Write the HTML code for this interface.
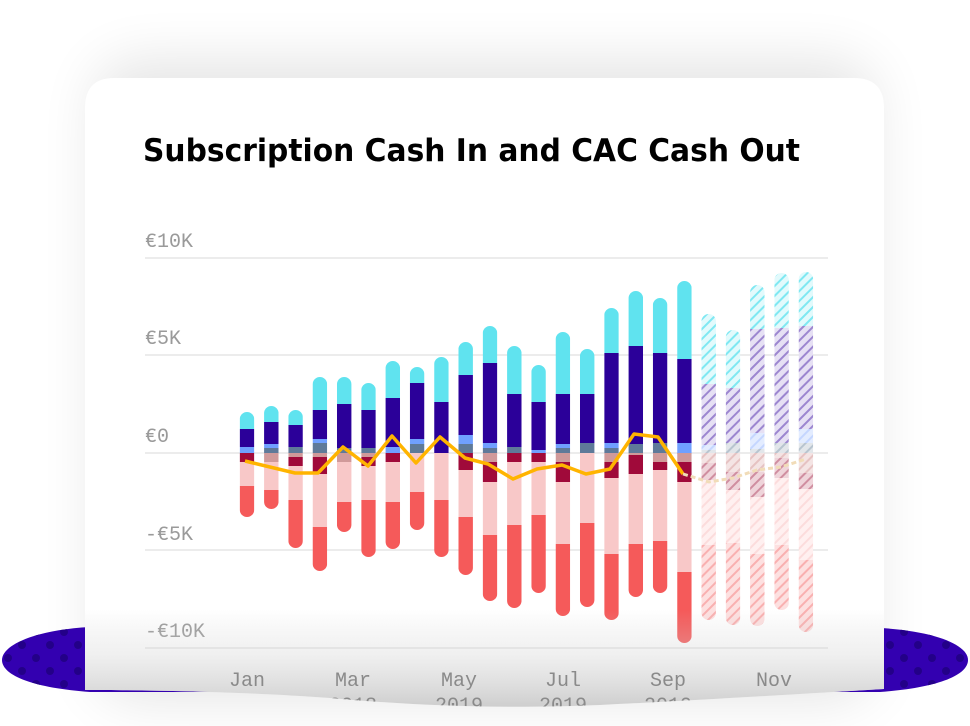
<!DOCTYPE html>
<html><head><meta charset="utf-8"><style>
html,body{margin:0;padding:0;background:#fff;width:970px;height:726px;overflow:hidden}
svg{display:block}
</style></head><body>
<svg id="s" width="970" height="726" viewBox="0 0 970 726" xmlns="http://www.w3.org/2000/svg">
<defs>
<filter id="sh" x="-30%" y="-30%" width="160%" height="160%"><feGaussianBlur stdDeviation="28"/></filter>
<linearGradient id="fade" x1="0" y1="0" x2="0" y2="1">
<stop offset="0" stop-color="#c8c8c8" stop-opacity="0"/>
<stop offset="0.4" stop-color="#d4d4d4" stop-opacity="0.35"/>
<stop offset="1" stop-color="#bcbcbc" stop-opacity="0.9"/>
</linearGradient>
<clipPath id="card"><path d="M114 78 H854 Q884 78 884 108 V689 C800 694 700 700 600 705 C500 709 420 706 330 698 C250 692 150 690 85 690 V108 Q85 78 114 78 Z"/></clipPath>
<pattern id="hc" width="7" height="7" patternUnits="userSpaceOnUse" patternTransform="rotate(45)"><rect width="7" height="7" fill="#e2fafc"/><rect width="2" height="7" fill="#7fe8f2"/></pattern>
<pattern id="hn" width="7" height="7" patternUnits="userSpaceOnUse" patternTransform="rotate(45)"><rect width="7" height="7" fill="#e6e0f4"/><rect width="2" height="7" fill="#9c86d0"/></pattern>
<pattern id="hl" width="7" height="7" patternUnits="userSpaceOnUse" patternTransform="rotate(45)"><rect width="7" height="7" fill="#e3ecff"/><rect width="2" height="7" fill="#c5d6ff"/></pattern>
<pattern id="hg" width="7" height="7" patternUnits="userSpaceOnUse" patternTransform="rotate(45)"><rect width="7" height="7" fill="#e2e6ea"/><rect width="2" height="7" fill="#b8c4cf"/></pattern>
<pattern id="hr" width="7" height="7" patternUnits="userSpaceOnUse" patternTransform="rotate(45)"><rect width="7" height="7" fill="#f4e4e4"/><rect width="2" height="7" fill="#e6c2c2"/></pattern>
<pattern id="hd" width="7" height="7" patternUnits="userSpaceOnUse" patternTransform="rotate(45)"><rect width="7" height="7" fill="#efd4da"/><rect width="2" height="7" fill="#d08ea0"/></pattern>
<pattern id="hp" width="7" height="7" patternUnits="userSpaceOnUse" patternTransform="rotate(45)"><rect width="7" height="7" fill="#fff0f0"/><rect width="2" height="7" fill="#fcdcdc"/></pattern>
<pattern id="hR" width="7" height="7" patternUnits="userSpaceOnUse" patternTransform="rotate(45)"><rect width="7" height="7" fill="#fde0e0"/><rect width="2" height="7" fill="#f9b0b0"/></pattern>
<pattern id="dots" width="28" height="26" patternUnits="userSpaceOnUse"><circle cx="8" cy="8" r="4" fill="#230088"/><circle cx="22" cy="21" r="4" fill="#230088"/></pattern>
</defs>
<rect x="95" y="60" width="780" height="640" rx="40" fill="#000" opacity="0.10" filter="url(#sh)"/>
<path id="blob" d="M90 627 C35 630 2 645 2 660 C2 676 35 688 90 692 H880 C935 688 968 676 968 660 C968 645 935 631 880 628 Z" fill="#3300b0"/>
<path d="M90 627 C35 630 2 645 2 660 C2 676 35 688 90 692 H880 C935 688 968 676 968 660 C968 645 935 631 880 628 Z" fill="url(#dots)"/>
<g clip-path="url(#card)">
<rect x="84" y="78" width="800" height="640" fill="#fff"/>
<text x="143" y="161" font-family="DejaVu Sans, sans-serif" font-weight="bold" font-size="31" fill="#000" textLength="657" lengthAdjust="spacingAndGlyphs">Subscription Cash In and CAC Cash Out</text>
<g stroke="#ececec" stroke-width="2">
<line x1="145" y1="258" x2="828" y2="258"/><line x1="145" y1="355" x2="828" y2="355"/>
<line x1="145" y1="453" x2="828" y2="453"/><line x1="145" y1="550" x2="828" y2="550"/>
<line x1="145" y1="648" x2="828" y2="648"/>
</g>
<g font-family="Liberation Mono, monospace" font-size="20" fill="#9a9a9a">
<text x="145" y="247">€10K</text><text x="145" y="344">€5K</text><text x="145" y="442">€0</text>
<text x="145" y="540">-€5K</text><text x="145" y="637">-€10K</text>
</g>
<g id="bars"></g>
<rect x="84" y="610" width="800" height="110" fill="url(#fade)"/>
<g font-family="Liberation Mono, monospace" font-size="20" fill="#8a8a8a" text-anchor="middle">
<text x="247" y="686">Jan</text><text x="353" y="686">Mar</text><text x="459" y="686">May</text>
<text x="563" y="686">Jul</text><text x="668" y="686">Sep</text><text x="774" y="686">Nov</text>
<text x="353" y="711">2018</text><text x="459" y="711">2019</text><text x="563" y="711">2019</text><text x="668" y="711">2019</text><text x="774" y="711">2020</text>
</g>
</g>
</svg>
<script>
var C={c:"#60e3ef",n:"#2b0099",l:"#70a0ff",g:"#5f7a99",r:"#d09a9a",d:"#a00a3a",p:"#f8c8c8",R:"#f55a5a"};
var B=[
[412,429,447,453,453,462,486,517],
[406,422,444,448,462,462,490,509],
[410,425,447,447,457,466,500,548],
[377,410,439,443,457,474,527,571],
[377,404,448,448,462,462,502,532],
[383,410,448,448,457,466,500,557],
[361,398,447,453,453,462,502,549],
[367,383,439,444,453,453,492,530],
[357,402,453,453,453,453,500,557],
[342,375,435,444,453,470,517,575],
[326,363,443,448,462,482,535,601],
[346,394,447,447,453,462,525,608],
[365,402,450,453,453,462,515,593],
[332,394,444,448,462,482,544,616],
[349,394,443,443,453,453,523,607],
[308,353,443,448,462,478,554,620],
[291,346,444,444,455,474,544,597],
[298,353,443,443,462,470,541,593],
[281,359,443,454,462,482,572,643],
[314,384,445,450,463,480,545,620],
[330,388,443,443,472,490,543,625],
[285,329,433,449,472,497,554,626],
[273,328,443,443,458,478,545,610],
[272,326,429,443,473,489,560,632]];
var ns="http://www.w3.org/2000/svg",G=document.getElementById("bars"),w=14.5;
function el(t,a,p){var e=document.createElementNS(ns,t);for(var k in a)e.setAttribute(k,a[k]);(p||G).appendChild(e);return e;}
B.forEach(function(b,i){
 var x=247+i*24.3-w/2,f=i>=19;
 var cp=el("clipPath",{id:"cb"+i});el("rect",{x:x,y:b[0],width:w,height:b[7]-b[0],rx:7.25},cp);
 var g=el("g",{"clip-path":"url(#cb"+i+")"});
 var segs=[[b[0],b[1],"c"],[b[1],b[2],"n"],[b[2],b[3],"l"],[b[3],453,"g"],[453,b[4],"r"],[b[4],b[5],"d"],[b[5],b[6],"p"],[b[6],b[7],"R"]];
 var hm={c:"hc",n:"hn",l:"hl",g:"hg",r:"hr",d:"hd",p:"hp",R:"hR"};
 segs.forEach(function(s){if(s[1]>s[0])el("rect",{x:x,y:s[0],width:w,height:s[1]-s[0],fill:f?"url(#"+hm[s[2]]+")":C[s[2]]},g);});
});
var P=[[245,461],[295,473],[318,473],[343,447],[368,466],[392,436],[416,463],[440,437],[465,458],[488,464],[513,479],[537,469],[562,465],[586,474],[610,469],[634,434],[658,437],[683,474]];
el("polyline",{points:P.map(function(p){return p.join(",")}).join(" "),fill:"none",stroke:"#ffb400","stroke-width":3.5,"stroke-linejoin":"round"});
el("polyline",{points:"683,474 709,482 733,478 757,470 781,467 806,459",fill:"none",stroke:"#f1dcb8","stroke-width":3,"stroke-dasharray":"5 3"});
</script>
</body></html>
